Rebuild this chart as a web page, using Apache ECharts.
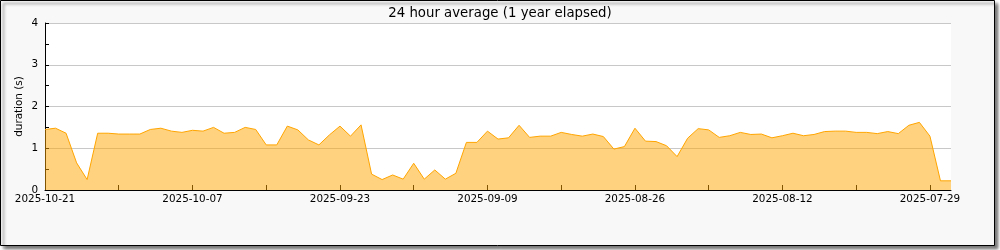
<!DOCTYPE html>
<html><head><meta charset="utf-8">
<script src="https://cdn.jsdelivr.net/npm/echarts@6/dist/echarts.min.js"></script>
<style>html,body{margin:0;padding:0;background:#fff}#c{width:1000px;height:250px}</style>
</head><body><div id="c"></div>
<script>
const title = '24 hour average (1 year elapsed)';
const yAxisName = 'duration (s)';
const startDate = '2025-10-21';
const dayCount = 87;
const durations = [
1.45,1.48,1.36,0.65,0.25,1.36,1.36,1.34,1.34,1.34,
1.45,1.48,1.41,1.38,1.43,1.41,1.50,1.36,1.38,1.50,
1.45,1.08,1.08,1.53,1.44,1.20,1.08,1.32,1.53,1.29,
1.56,0.38,0.25,0.36,0.26,0.64,0.26,0.48,0.26,0.40,
1.14,1.14,1.41,1.22,1.25,1.55,1.26,1.29,1.29,1.38,
1.33,1.29,1.34,1.28,0.98,1.04,1.48,1.17,1.16,1.06,
0.80,1.24,1.47,1.44,1.26,1.30,1.38,1.33,1.34,1.25,
1.30,1.36,1.30,1.33,1.40,1.41,1.41,1.38,1.38,1.35,
1.40,1.35,1.55,1.62,1.29,0.22,0.22];
const categories = [];
{
  const d0 = new Date(startDate + 'T00:00:00Z');
  for (let i = 0; i < dayCount; i++) {
    const d = new Date(d0.getTime() - i * 86400000);
    categories.push(d.toISOString().slice(0, 10));
  }
}
const FONT = 'DejaVu Sans';
const chart = echarts.init(document.getElementById('c'), null, {renderer: 'canvas'});
chart.setOption({
  animation: false,
  backgroundColor: '#fff',
  graphic: [
    {type: 'rect', z: -10, shape: {x: 0.5, y: 0.5, width: 994, height: 245}, silent: true,
     style: {fill: '#f8f8f8', stroke: '#000', lineWidth: 1,
             shadowColor: 'rgba(0,0,0,0.55)', shadowBlur: 3, shadowOffsetX: 3, shadowOffsetY: 3}}
  ],
  title: {
    text: title, left: 'center', top: 2,
    textStyle: {fontFamily: FONT, fontSize: 13.3, fontWeight: 'normal', color: '#000'}
  },
  grid: {left: 45, right: 49, top: 23, bottom: 60, show: true, backgroundColor: '#fff', borderWidth: 0, containLabel: false},
  xAxis: {
    type: 'category', data: categories, boundaryGap: false,
    axisLine: {show: true, lineStyle: {color: '#000', width: 1}},
    axisTick: {show: true, inside: true, length: 5, interval: 6, lineStyle: {color: '#000'}},
    axisLabel: {interval: 13, margin: 4, fontFamily: FONT, fontSize: 10.4, color: '#000'},
    splitLine: {show: false}
  },
  yAxis: {
    type: 'value', min: 0, max: 4, interval: 1,
    name: yAxisName, nameLocation: 'middle', nameGap: 21, nameMoveOverlap: false,
    nameTextStyle: {fontFamily: FONT, fontSize: 10.4, color: '#000'},
    axisLine: {show: true, lineStyle: {color: '#000', width: 1}},
    axisTick: {show: true, inside: true, length: 4, lineStyle: {color: '#000'}},
    minorTick: {show: true, splitNumber: 2, length: 4, lineStyle: {color: '#000'}},
    axisLabel: {margin: 7, fontFamily: FONT, fontSize: 10.4, color: '#000'},
    splitLine: {show: true, lineStyle: {color: '#c8c8c8', width: 1}}
  },
  series: [{
    type: 'line', data: durations, symbol: 'none', smooth: false,
    lineStyle: {color: '#ffa500', width: 1},
    areaStyle: {color: '#ffa500', opacity: 0.5},
    itemStyle: {color: '#ffa500'}
  }]
});
</script></body></html>
